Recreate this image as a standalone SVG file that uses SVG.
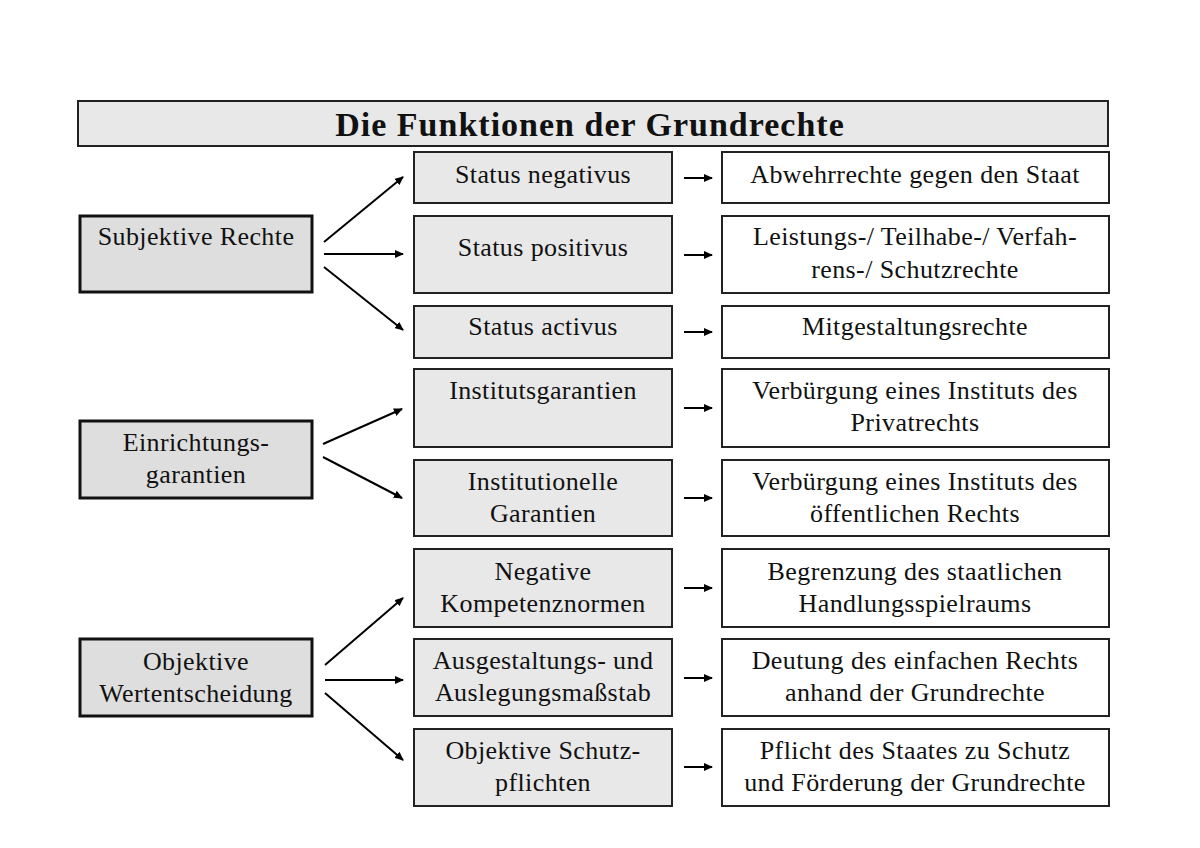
<svg xmlns="http://www.w3.org/2000/svg" width="1200" height="848" viewBox="0 0 1200 848">
<style>
text{font-family:"Liberation Serif","DejaVu Serif",serif;font-size:26px;letter-spacing:0.4px;fill:#111;text-anchor:middle}
.title{font-size:34px;font-weight:bold;letter-spacing:1px}
.mid{fill:#e8e8e8;stroke:#222;stroke-width:2}
.res{fill:#fff;stroke:#222;stroke-width:2}
.cat{fill:#dedede;stroke:#111;stroke-width:3}
.con line{stroke:#000;stroke-width:2;marker-end:url(#ah)}
</style>
<defs>
<marker id="ah" markerWidth="9" markerHeight="8" refX="8" refY="4" orient="auto" markerUnits="userSpaceOnUse">
<path d="M0,0 L9,4 L0,8 z" fill="#000"/>
</marker>
</defs>
<rect width="1200" height="848" fill="#fff"/>
<g id="title">
<rect x="78" y="101" width="1030" height="45" fill="#e8e8e8" stroke="#222" stroke-width="2"/>
<text class="title" x="590" y="136">Die Funktionen der Grundrechte</text>
</g>
<g id="subjektive">
<rect class="cat" x="80" y="216" width="232" height="76"/>
<text x="196" y="245">Subjektive Rechte</text>
</g>
<g id="einrichtung">
<rect class="cat" x="80" y="421" width="232" height="77"/>
<text x="196" y="451">Einrichtungs-</text>
<text x="196" y="483">garantien</text>
</g>
<g id="objektiv">
<rect class="cat" x="80" y="639" width="232" height="77"/>
<text x="196" y="670">Objektive</text>
<text x="196" y="702">Wertentscheidung</text>
</g>
<g id="m1"><rect class="mid" x="414" y="152" width="258" height="51"/><text x="543" y="183">Status negativus</text></g>
<g id="m2"><rect class="mid" x="414" y="216" width="258" height="77"/><text x="543" y="256">Status positivus</text></g>
<g id="m3"><rect class="mid" x="414" y="306" width="258" height="52"/><text x="543" y="335">Status activus</text></g>
<g id="m4"><rect class="mid" x="414" y="369" width="258" height="78"/><text x="543" y="399">Institutsgarantien</text></g>
<g id="m5"><rect class="mid" x="414" y="460" width="258" height="76"/><text x="543" y="490">Institutionelle</text><text x="543" y="522">Garantien</text></g>
<g id="m6"><rect class="mid" x="414" y="549" width="258" height="78"/><text x="543" y="580">Negative</text><text x="543" y="612">Kompetenznormen</text></g>
<g id="m7"><rect class="mid" x="414" y="639" width="258" height="77"/><text x="543" y="669">Ausgestaltungs- und</text><text x="543" y="701">Auslegungsmaßstab</text></g>
<g id="m8"><rect class="mid" x="414" y="729" width="258" height="77"/><text x="543" y="759">Objektive Schutz-</text><text x="543" y="791">pflichten</text></g>
<g id="r1"><rect class="res" x="722" y="152" width="387" height="51"/><text x="915" y="183">Abwehrrechte gegen den Staat</text></g>
<g id="r2"><rect class="res" x="722" y="216" width="387" height="77"/><text x="915" y="245">Leistungs-/ Teilhabe-/ Verfah-</text><text x="915" y="278">rens-/ Schutzrechte</text></g>
<g id="r3"><rect class="res" x="722" y="306" width="387" height="52"/><text x="915" y="335">Mitgestaltungsrechte</text></g>
<g id="r4"><rect class="res" x="722" y="369" width="387" height="78"/><text x="915" y="399">Verbürgung eines Instituts des</text><text x="915" y="431">Privatrechts</text></g>
<g id="r5"><rect class="res" x="722" y="460" width="387" height="76"/><text x="915" y="490">Verbürgung eines Instituts des</text><text x="915" y="522">öffentlichen Rechts</text></g>
<g id="r6"><rect class="res" x="722" y="549" width="387" height="78"/><text x="915" y="580">Begrenzung des staatlichen</text><text x="915" y="612">Handlungsspielraums</text></g>
<g id="r7"><rect class="res" x="722" y="639" width="387" height="77"/><text x="915" y="669">Deutung des einfachen Rechts</text><text x="915" y="701">anhand der Grundrechte</text></g>
<g id="r8"><rect class="res" x="722" y="729" width="387" height="77"/><text x="915" y="759">Pflicht des Staates zu Schutz</text><text x="915" y="791">und Förderung der Grundrechte</text></g>
<g id="connectors" class="con">
<line x1="324" y1="242" x2="403" y2="177"/>
<line x1="324" y1="254" x2="403" y2="254"/>
<line x1="324" y1="267" x2="403" y2="330"/>
<line x1="323" y1="444" x2="402" y2="409"/>
<line x1="323" y1="457" x2="402" y2="498"/>
<line x1="325" y1="665" x2="403" y2="598"/>
<line x1="325" y1="680" x2="403" y2="680"/>
<line x1="325" y1="693" x2="403" y2="760"/>
<line x1="684" y1="178" x2="712" y2="178"/>
<line x1="684" y1="255" x2="712" y2="255"/>
<line x1="684" y1="332" x2="712" y2="332"/>
<line x1="684" y1="408" x2="712" y2="408"/>
<line x1="684" y1="498" x2="712" y2="498"/>
<line x1="684" y1="588" x2="712" y2="588"/>
<line x1="684" y1="678" x2="712" y2="678"/>
<line x1="684" y1="767" x2="712" y2="767"/>
</g>
</svg>
